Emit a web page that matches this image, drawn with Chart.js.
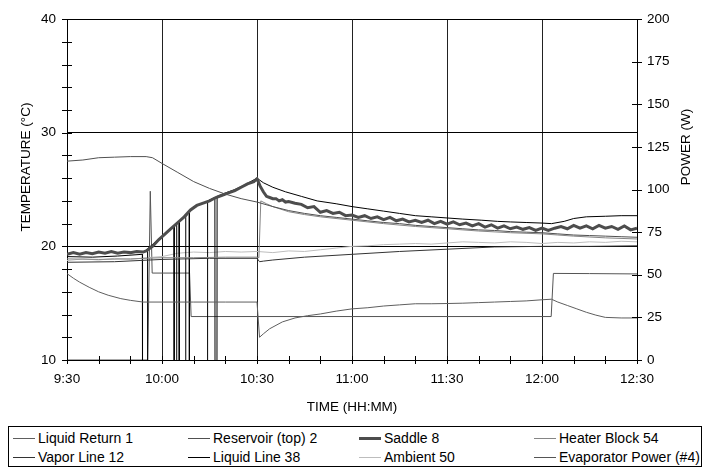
<!DOCTYPE html>
<html>
<head>
<meta charset="utf-8">
<script src="https://cdn.jsdelivr.net/npm/chart.js@4.4.1/dist/chart.umd.min.js"></script>
<style>
  body { margin: 0; background: #fff; width: 711px; height: 468px; overflow: hidden; position: relative; }
  #chart { position: absolute; left: 0; top: 0; }
  #legend {
    position: absolute; left: 8px; top: 426px; width: 694px; height: 41px;
    border: 1px solid #000; box-sizing: border-box;
    font: 14px "Liberation Sans", Arial, sans-serif; color: #000;
  }
  .item { position: absolute; height: 18px; display: flex; align-items: center; white-space: nowrap; }
  .swatch { display: inline-block; width: 22px; height: 0; border-top-style: solid; margin-right: 3px; }
</style>
</head>
<body>
<canvas id="chart" width="711" height="420"></canvas>
<div id="legend"></div>
<script>
// minutes after 9:30
const timeLabels = ['9:30', '10:00', '10:30', '11:00', '11:30', '12:00', '12:30'];
const tempTicks = [10, 20, 30, 40];
const powerTicks = [0, 25, 50, 75, 100, 125, 150, 175, 200];

const liquidReturnT = [0, 2, 4, 7, 10, 13, 17, 20, 24, 30, 40, 50, 60, 60.8, 62, 64, 66, 68, 72, 76, 80, 85, 90, 95, 100, 105, 110, 115, 120, 125, 130, 135, 140, 145, 150, 153, 155, 158, 161, 164, 167, 170, 175, 180];
const liquidReturn = [17.6, 17.2, 16.85, 16.4, 16.0, 15.7, 15.4, 15.25, 15.1, 15.1, 15.1, 15.1, 15.1, 12.0, 12.3, 12.75, 13.05, 13.35, 13.7, 13.9, 14.05, 14.3, 14.5, 14.6, 14.75, 14.85, 14.95, 14.95, 14.97, 15.0, 15.05, 15.1, 15.15, 15.2, 15.3, 15.35, 15.1, 14.8, 14.5, 14.2, 13.95, 13.75, 13.7, 13.7];

const reservoirT = [0, 5, 10, 15, 20, 25, 27, 30, 35, 40, 45, 50, 55, 60, 65, 70, 75, 80, 85, 90, 95, 100, 105, 110, 115, 120, 125, 130, 135, 140, 145, 150, 155, 160, 165, 170, 175, 180];
const reservoir = [27.5, 27.6, 27.8, 27.85, 27.9, 27.9, 27.8, 27.3, 26.5, 25.7, 25.1, 24.6, 24.2, 23.9, 23.5, 23.15, 22.9, 22.7, 22.55, 22.4, 22.25, 22.1, 22.0, 21.85, 21.75, 21.65, 21.55, 21.45, 21.4, 21.3, 21.25, 21.2, 21.1, 21.0, 20.95, 20.9, 20.85, 20.8];

const saddleT = [0, 2, 4, 6, 8, 10, 12, 14, 16, 18, 20, 22, 24, 25, 27, 29, 31, 33, 35, 37, 39, 41, 43, 45, 47, 49, 51, 53, 55, 57, 59, 60, 61, 62, 63, 64, 65, 66, 67, 68, 69, 70, 72, 74, 76, 78, 80, 82, 84, 86, 88, 90, 92, 94, 96, 98, 100, 102, 104, 106, 108, 110, 112, 114, 116, 118, 120, 122, 124, 126, 128, 130, 132, 134, 136, 138, 140, 142, 144, 146, 148, 150, 152, 154, 156, 158, 160, 162, 164, 166, 168, 170, 172, 174, 176, 178, 180];
const saddle = [19.3, 19.45, 19.3, 19.45, 19.35, 19.5, 19.4, 19.55, 19.4, 19.5, 19.45, 19.55, 19.5, 19.6, 20.0, 20.6, 21.1, 21.6, 22.1, 22.6, 23.2, 23.6, 23.8, 24.0, 24.3, 24.5, 24.7, 24.9, 25.2, 25.5, 25.7, 25.95, 25.3, 24.8, 24.4, 24.3, 24.2, 24.2, 24.0, 24.1, 23.9, 23.95, 23.8, 23.7, 23.4, 23.5, 23.0, 23.15, 22.9, 23.0, 22.7, 22.75, 22.55, 22.7, 22.45, 22.6, 22.35, 22.55, 22.25, 22.4, 22.15, 22.3, 22.1, 22.3, 22.0, 22.2, 21.95, 22.15, 21.9, 22.05, 21.8, 22.0, 21.7, 21.9, 21.6, 21.8, 21.55, 21.7, 21.5, 21.65, 21.4, 21.6, 21.4, 21.6, 21.75, 21.55, 21.85, 21.6, 21.8, 21.55, 21.85, 21.6, 21.75, 21.5, 21.8, 21.45, 21.6];

const heaterT = [0, 10, 20, 30, 40, 50, 60, 60.6, 61.2, 63, 65, 70, 75, 80, 90, 100, 110, 120, 130, 140, 150, 155, 160, 170, 180];
const heater = [18.9, 18.85, 18.9, 19.0, 19.0, 19.05, 19.05, 19.0, 24.0, 23.75, 23.5, 23.05, 22.8, 22.6, 22.3, 22.0, 21.75, 21.55, 21.35, 21.2, 21.1, 21.0, 20.9, 20.75, 20.65];

const vaporT = [0, 15, 30, 45, 60, 60.8, 62, 65, 75, 90, 105, 120, 135, 150, 165, 180];
const vapor = [18.6, 18.65, 18.85, 18.95, 18.95, 18.65, 18.7, 18.8, 19.05, 19.3, 19.55, 19.75, 19.95, 20.0, 20.0, 20.05];

// sensor drops out (reads far below scale) several times while warming up
const liquidLineT = [0, 8, 16, 23.8, 23.85, 25.4, 25.45, 28, 31, 33.8, 33.85, 34.6, 34.65, 35.4, 35.45, 37.45, 37.5, 38.6, 38.65, 44.35, 44.4, 46.7, 46.75, 47.35, 47.4, 50, 53, 56, 60, 62, 65, 69, 74, 79, 85, 90, 95, 100, 105, 110, 115, 120, 125, 131, 136, 140, 145, 150, 153, 157, 160, 164, 170, 175, 180];
const liquidLine = [19.1, 19.05, 19.15, 19.3, 5, 5, 19.8, 20.4, 21.1, 21.8, 5, 5, 22.0, 22.2, 5, 5, 22.6, 23.0, 5, 5, 24.0, 24.3, 5, 5, 24.4, 24.7, 25.0, 25.4, 26.0, 25.6, 25.2, 24.8, 24.4, 24.0, 23.75, 23.5, 23.3, 23.1, 22.9, 22.7, 22.6, 22.5, 22.4, 22.3, 22.2, 22.15, 22.1, 22.05, 22.0, 22.2, 22.45, 22.6, 22.65, 22.7, 22.7];

const ambientT = [0, 5, 10, 15, 20, 25, 30, 35, 40, 45, 50, 55, 60, 65, 70, 75, 80, 85, 90, 95, 100, 105, 110, 115, 120, 125, 130, 135, 140, 145, 150, 155, 160, 165, 170, 175, 180];
const ambient = [18.75, 18.9, 18.8, 18.95, 18.85, 19.0, 19.1, 19.4, 19.5, 19.45, 19.55, 19.5, 19.55, 19.45, 19.6, 19.55, 19.7, 19.85, 20.0, 20.05, 20.15, 20.2, 20.25, 20.2, 20.3, 20.4, 20.35, 20.3, 20.4, 20.35, 20.25, 20.35, 20.3, 20.4, 20.35, 20.45, 20.4];

const powerT = [0, 25.5, 26.3, 26.9, 38.7, 39.2, 152.9, 153.6, 165, 180];
const power = [0, 0, 99, 51, 51, 25.5, 25.5, 50.8, 50.7, 50.5];

function pts(ts, vs) {
  return ts.map((t, i) => ({ x: t, y: vs[i] }));
}

const series = [
  { label: 'Liquid Return 1', t: liquidReturnT, v: liquidReturn, color: '#5e5e5e', width: 1, axis: 'y' },
  { label: 'Reservoir (top) 2', t: reservoirT, v: reservoir, color: '#505050', width: 1, axis: 'y' },
  { label: 'Saddle 8', t: saddleT, v: saddle, color: '#4d4d4d', width: 3, axis: 'y' },
  { label: 'Heater Block 54', t: heaterT, v: heater, color: '#858585', width: 1, axis: 'y' },
  { label: 'Vapor Line 12', t: vaporT, v: vapor, color: '#333333', width: 1, axis: 'y' },
  { label: 'Liquid Line 38', t: liquidLineT, v: liquidLine, color: '#000000', width: 1, axis: 'y' },
  { label: 'Ambient 50', t: ambientT, v: ambient, color: '#bdbdbd', width: 1, axis: 'y' },
  { label: 'Evaporator Power (#4)', t: powerT, v: power, color: '#555555', width: 1, axis: 'y1' }
];

const FONT = '"Liberation Sans", Arial, sans-serif';
Chart.defaults.font.family = FONT;
Chart.defaults.font.size = 13.5;
Chart.defaults.color = '#000';

/* cross tick marks on the axes and the three axis titles */
const axisDecor = {
  id: 'axisDecor',
  afterDraw(chart) {
    const { ctx, chartArea: a, scales } = chart;
    ctx.save();
    ctx.strokeStyle = '#000';
    ctx.lineWidth = 1;
    ctx.beginPath();
    scales.x.ticks.forEach((t) => {
      const px = Math.round(scales.x.getPixelForValue(t.value)) + 0.5;
      ctx.moveTo(px, a.bottom - 4);
      ctx.lineTo(px, a.bottom + 4);
    });
    scales.y.ticks.forEach((t) => {
      const py = Math.round(scales.y.getPixelForValue(t.value)) + 0.5;
      ctx.moveTo(a.left - 5, py);
      ctx.lineTo(a.left + 5, py);
    });
    scales.y1.ticks.forEach((t) => {
      const py = Math.round(scales.y1.getPixelForValue(t.value)) + 0.5;
      ctx.moveTo(a.right - 5, py);
      ctx.lineTo(a.right + 5, py);
    });
    ctx.stroke();

    ctx.fillStyle = '#000';
    ctx.font = '13.5px ' + FONT;
    ctx.textAlign = 'center';
    ctx.textBaseline = 'middle';
    ctx.fillText('TIME (HH:MM)', (a.left + a.right) / 2, 407);
    ctx.translate(26, 167);
    ctx.rotate(-Math.PI / 2);
    ctx.fillText('TEMPERATURE (°C)', 0, 0);
    ctx.restore();
    ctx.save();
    ctx.fillStyle = '#000';
    ctx.font = '13.5px ' + FONT;
    ctx.textAlign = 'center';
    ctx.textBaseline = 'middle';
    ctx.translate(686, 147);
    ctx.rotate(-Math.PI / 2);
    ctx.fillText('POWER (W)', 0, 0);
    ctx.restore();
  }
};

const chart = new Chart(document.getElementById('chart'), {
  type: 'line',
  data: {
    datasets: series.map((s) => ({
      label: s.label,
      data: pts(s.t, s.v),
      borderColor: s.color,
      backgroundColor: s.color,
      borderWidth: s.width,
      pointRadius: 0,
      tension: 0,
      fill: false,
      yAxisID: s.axis
    }))
  },
  options: {
    responsive: false,
    animation: false,
    layout: { padding: { top: 16, left: 0, right: 0, bottom: 0 } },
    plugins: { legend: { display: false }, tooltip: { enabled: false } },
    scales: {
      x: {
        type: 'linear',
        min: 0,
        max: 180,
        afterFit: (s) => { s.height = 60; },
        ticks: {
          stepSize: 10,
          autoSkip: false,
          maxRotation: 0,
          padding: 11,
          callback: (v) => (v % 30 === 0 ? timeLabels[v / 30] : '')
        },
        grid: {
          drawTicks: false,
          color: (c) => (c.tick && c.tick.value % 30 === 0 ? '#222' : 'rgba(0,0,0,0)')
        },
        border: { color: '#000' }
      },
      y: {
        position: 'left',
        min: 10,
        max: 40,
        afterFit: (s) => { s.width = 67; },
        ticks: {
          stepSize: 2,
          autoSkip: false,
          padding: 11,
          callback: (v) => (tempTicks.includes(v) ? v : '')
        },
        grid: {
          drawTicks: false,
          color: (c) => (c.tick && tempTicks.includes(c.tick.value) ? '#000' : 'rgba(0,0,0,0)')
        },
        border: { color: '#000' }
      },
      y1: {
        position: 'right',
        min: 0,
        max: 200,
        afterFit: (s) => { s.width = 74; },
        ticks: {
          stepSize: 25,
          autoSkip: false,
          padding: 10,
          callback: (v) => (powerTicks.includes(v) ? v : '')
        },
        grid: { drawTicks: false, drawOnChartArea: false },
        border: { color: '#000' }
      }
    }
  },
  plugins: [axisDecor]
});

/* legend box: 4 columns, 2 rows */
const legend = document.getElementById('legend');
const colX = [4, 179, 350, 525];
const rowY = [2, 21];
chart.data.datasets.forEach((ds, i) => {
  const item = document.createElement('div');
  item.className = 'item';
  item.style.left = colX[i % 4] + 'px';
  item.style.top = rowY[Math.floor(i / 4)] + 'px';
  const sw = document.createElement('span');
  sw.className = 'swatch';
  sw.style.borderTopColor = ds.borderColor;
  sw.style.borderTopWidth = ds.borderWidth + 'px';
  item.appendChild(sw);
  item.appendChild(document.createTextNode(ds.label));
  legend.appendChild(item);
});
</script>
</body>
</html>
